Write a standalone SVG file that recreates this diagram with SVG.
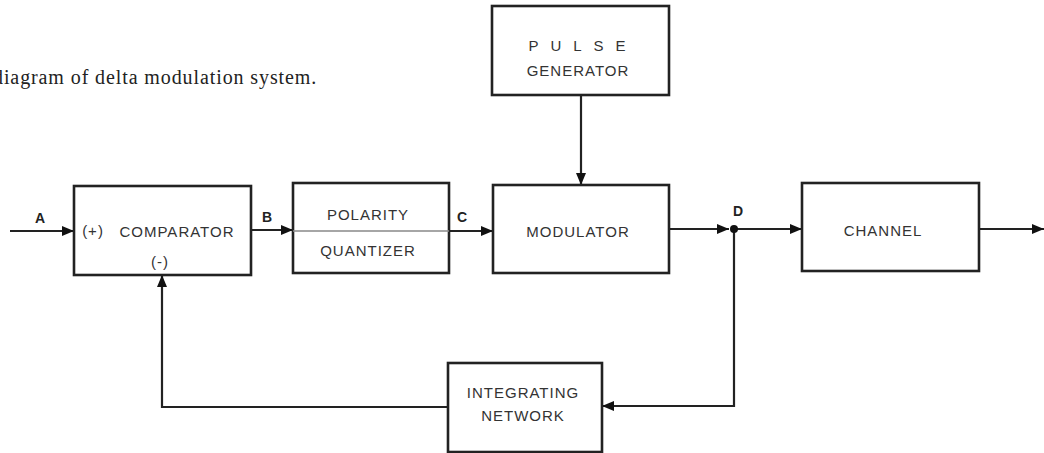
<svg xmlns="http://www.w3.org/2000/svg" width="1044" height="453" viewBox="0 0 1044 453">
<style>
.box{fill:#fff;stroke:#222;stroke-width:2.6}
.lbl{font-family:"Liberation Sans",Arial,sans-serif;font-size:15px;fill:#333;text-anchor:middle;letter-spacing:1px}
.sig{font-family:"Liberation Sans",Arial,sans-serif;font-size:14px;font-weight:bold;fill:#222;text-anchor:middle}
.wire{fill:none;stroke:#222;stroke-width:2.2}
.cap{font-family:"Liberation Serif","Times New Roman",serif;font-size:20px;fill:#222;letter-spacing:0.9px}
</style>
<defs>
<marker id="ah" viewBox="0 0 12 10" refX="12" refY="5" markerWidth="12" markerHeight="10" markerUnits="userSpaceOnUse" orient="auto">
<path d="M0,0 L12,5 L0,10 Z" fill="#111"/>
</marker>
</defs>
<text class="cap" x="-7" y="84">diagram of delta modulation system.</text>
<g id="connectors">
<path class="wire" d="M10,231 L74,231" marker-end="url(#ah)"/>
<path class="wire" d="M251,230 L293,230" marker-end="url(#ah)"/>
<path class="wire" d="M449,231 L493,231" marker-end="url(#ah)"/>
<path class="wire" d="M581,95 L581,185" marker-end="url(#ah)"/>
<path class="wire" d="M669,229 L729,229" marker-end="url(#ah)"/>
<path class="wire" d="M734,229 L802,229" marker-end="url(#ah)"/>
<path class="wire" d="M979,229 L1044,229" marker-end="url(#ah)"/>
<path class="wire" d="M734,229 L734,406 L602,406" marker-end="url(#ah)"/>
<path class="wire" d="M448,407 L162,407 L162,275" marker-end="url(#ah)"/>
<circle cx="734" cy="229" r="4" fill="#111"/>
<text class="sig" x="40" y="223">A</text>
<text class="sig" x="267" y="222">B</text>
<text class="sig" x="462" y="222">C</text>
<text class="sig" x="738" y="216">D</text>
</g>
<g id="comparator">
<rect class="box" x="74" y="186" width="177" height="89"/>
<text class="lbl" x="93" y="236">(+)</text>
<text class="lbl" x="177" y="237">COMPARATOR</text>
<text class="lbl" x="160" y="267">(-)</text>
</g>
<g id="quantizer">
<rect class="box" x="293" y="183" width="156" height="90"/>
<line x1="293" y1="231" x2="449" y2="231" stroke="#888" stroke-width="1.5"/>
<text class="lbl" x="368" y="220">POLARITY</text>
<text class="lbl" x="368" y="256">QUANTIZER</text>
</g>
<g id="pulse">
<rect class="box" x="492" y="6" width="177" height="89"/>
<text class="lbl" x="583" y="51" style="letter-spacing:12px">PULSE</text>
<text class="lbl" x="578" y="76">GENERATOR</text>
</g>
<g id="modulator">
<rect class="box" x="493" y="185" width="176" height="88"/>
<text class="lbl" x="578" y="237">MODULATOR</text>
</g>
<g id="channel">
<rect class="box" x="802" y="183" width="177" height="88"/>
<text class="lbl" x="883" y="236">CHANNEL</text>
</g>
<g id="integrating">
<rect class="box" x="448" y="363" width="154" height="89"/>
<text class="lbl" x="523" y="398">INTEGRATING</text>
<text class="lbl" x="523" y="421">NETWORK</text>
</g>
</svg>
